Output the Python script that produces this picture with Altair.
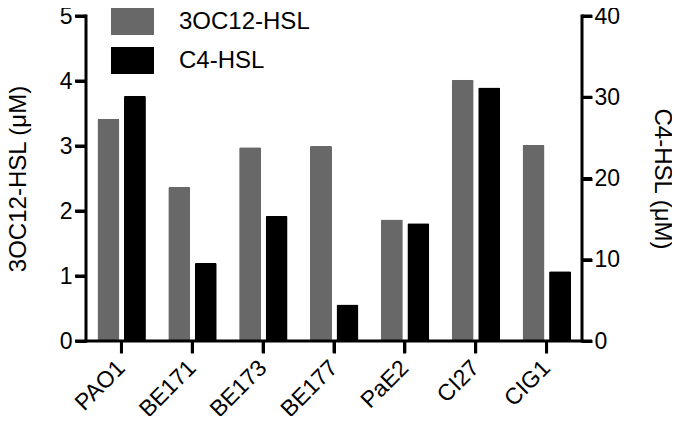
import altair as alt
import pandas as pd

strains = ["PAO1", "BE171", "BE173", "BE177", "PaE2", "CI27", "CIG1"]
oc12 = [3.42, 2.37, 2.98, 3.0, 1.87, 4.02, 3.02]
c4 = [30.2, 9.6, 15.4, 4.5, 14.5, 31.2, 8.6]
series = ["3OC12-HSL", "C4-HSL"]
colors = ["#686868", "#000000"]
left_ticks = [0, 1, 2, 3, 4, 5]
right_ticks = [0, 10, 20, 30, 40]

df = pd.DataFrame({"strain": strains, "oc12": oc12, "c4": c4})
lt = pd.DataFrame({"v": left_ticks})
rt = pd.DataFrame({"v": right_ticks})
one = pd.DataFrame({"a": [0]})

FONT = "Liberation Sans"
INK = "#000000"


def left_scale():
    return alt.Scale(domain=[0, 5], nice=False)


def right_scale():
    return alt.Scale(domain=[0, 40], nice=False)


def axis(**kw):
    base = dict(
        domain=False,
        ticks=True,
        labelFont=FONT,
        labelFontSize=23,
        labelColor="black",
        tickWidth=3,
        tickColor=INK,
        titleFont=FONT,
        titleFontSize=24,
        titleFontWeight="normal",
        titleColor="black",
        grid=False,
        zindex=1,
    )
    base.update(kw)
    return alt.Axis(**base)


x = alt.X(
    "strain:N",
    sort=strains,
    scale=alt.Scale(paddingInner=0, paddingOuter=0),
    axis=axis(
        title=None,
        labelAngle=-45,
        labelAlign="right",
        labelBaseline="middle",
        labelPadding=11,
        tickSize=12,
    ),
)

color_scale = alt.Scale(domain=series, range=colors)

grey = alt.Chart(df).mark_bar(width=22, xOffset=-13, cornerRadius=1.5).encode(
    x=x,
    y=alt.Y(
        "oc12:Q",
        scale=left_scale(),
        axis=axis(
            title="3OC12-HSL (μM)",
            values=left_ticks,
            orient="left",
            labelPadding=3,
            tickSize=11,
            titlePadding=29,
        ),
    ),
    color=alt.Color(
        "s:N",
        scale=color_scale,
        legend=alt.Legend(
            title=None,
            orient="none",
            legendX=33,
            legendY=-8,
            padding=0,
            symbolType="M-1.593,-1L1.593,-1L1.593,1L-1.593,1Z",
            symbolSize=729,
            symbolStrokeWidth=0,
            symbolOpacity=1,
            labelFontSize=24,
            labelFont=FONT,
            labelColor="black",
            labelOffset=33,
            rowPadding=12,
        ),
    ),
).transform_calculate(s="'3OC12-HSL'")

black = alt.Chart(df).mark_bar(width=22, xOffset=13.5, cornerRadius=1.5).encode(
    x=x,
    y=alt.Y(
        "c4:Q",
        scale=right_scale(),
        axis=axis(
            title="C4-HSL (μM)",
            values=right_ticks,
            orient="right",
            labelPadding=2,
            tickSize=10,
            titlePadding=30,
        ),
    ),
    color=alt.Color("s:N", scale=color_scale),
).transform_calculate(s="'C4-HSL'")

# axis lines and ticks drawn as filled marks
x_ticks = alt.Chart(df).mark_tick(
    orient="vertical", thickness=3, size=12, yOffset=6, color="black", opacity=1
).encode(x=alt.X("strain:N", sort=strains), y=alt.value("height"))

y_left_ticks = alt.Chart(lt).mark_tick(
    orient="horizontal", thickness=3, size=11, xOffset=-5.5, color="black", opacity=1
).encode(y=alt.Y("v:Q", scale=left_scale(), axis=None), x=alt.value(0))

y_right_ticks = alt.Chart(rt).mark_tick(
    orient="horizontal", thickness=3, size=10, xOffset=5, color="black", opacity=1
).encode(y=alt.Y("v:Q", scale=right_scale(), axis=None), x=alt.value("width"))

left_line = alt.Chart(one).mark_rect(
    color="black", opacity=1, xOffset=-1.5, x2Offset=1.5, yOffset=-1.5, y2Offset=1.5
).encode(x=alt.value(0), x2=alt.value(0), y=alt.value(0), y2=alt.value("height"))

bottom_line = alt.Chart(one).mark_rect(
    color="black", opacity=1, xOffset=-1.5, x2Offset=1.5, yOffset=-1.5, y2Offset=1.5
).encode(x=alt.value(0), x2=alt.value("width"), y=alt.value("height"), y2=alt.value("height"))

right_line = alt.Chart(one).mark_rect(
    color="black", opacity=1, xOffset=-1.5, x2Offset=1.5, yOffset=-1.5, y2Offset=1.5
).encode(x=alt.value("width"), x2=alt.value("width"), y=alt.value(0), y2=alt.value("height"))

chart = (
    alt.layer(
        grey,
        black,
        y_left_ticks,
        y_right_ticks,
        x_ticks,
        left_line,
        bottom_line,
        right_line,
    )
    .resolve_scale(y="independent")
    .properties(
        width=496,
        height=325,
        autosize=alt.AutoSizeParams(type="none"),
        padding={"left": 78, "top": 8, "right": 90, "bottom": 75},
        background="white",
    )
    .configure_view(stroke=None)
)

chart.save("out.html", embed_options={"renderer": "svg", "actions": False})
